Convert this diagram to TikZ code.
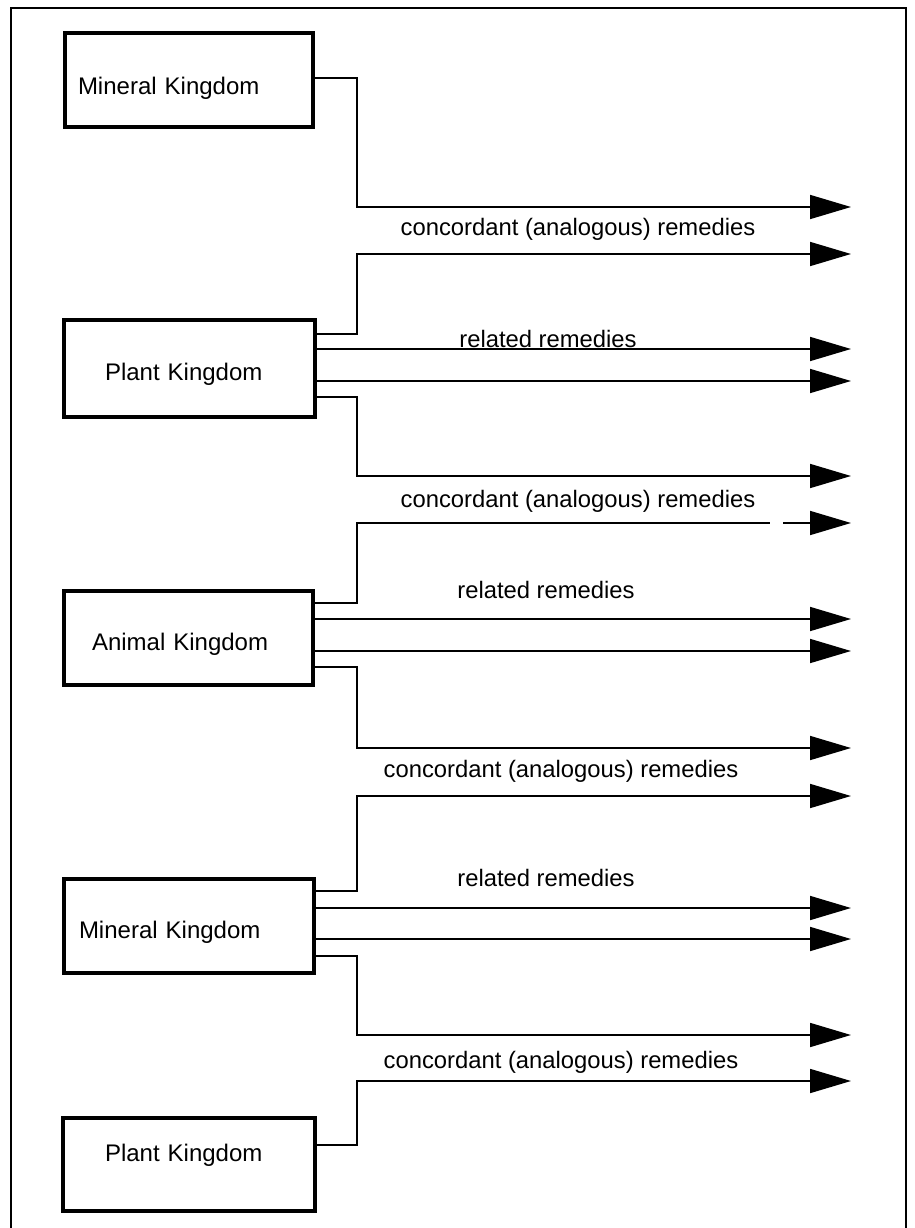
\documentclass[tikz,border=0pt]{standalone}
\usepackage{fontspec}
\setmainfont{Liberation Sans}
\usetikzlibrary{arrows.meta}
\begin{document}
\begin{tikzpicture}[x=1pt,y=-1pt,
  kbox/.style={draw, line width=3.2pt, rectangle, inner sep=0pt,
    font=\fontsize{24}{28}\selectfont, align=left},
  conn/.style={line width=1.7pt},
  arr/.style={conn, -{Triangle[length=41pt,width=24pt]}},
  lbl/.style={font=\fontsize{23.8}{28}\selectfont, anchor=base, inner sep=0pt}]
\useasboundingbox (0,0) rectangle (914,1228);
\draw[line width=1.5pt] (11,1228) -- (11,8) -- (906,8) -- (906,1228);

% boxes
\node[kbox, minimum width=248pt, minimum height=94pt, text width=222pt,
  text height=34pt, text depth=4pt] (m1) at (189,80) {Mineral Kingdom};
\node[kbox, minimum width=251pt, minimum height=97pt, text width=169pt,
  text height=27pt, text depth=4pt] (p1) at (189.5,368.5) {Plant Kingdom};
\node[kbox, minimum width=249pt, minimum height=94pt, text width=193pt,
  text height=28pt, text depth=4pt] (a1) at (188.5,638) {Animal Kingdom};
\node[kbox, minimum width=250pt, minimum height=94pt, text width=220pt,
  text height=28pt, text depth=4pt] (m2) at (189,926) {Mineral Kingdom};
\node[kbox, minimum width=252pt, minimum height=93pt, text width=168pt,
  text height=17pt, text depth=24pt] (p2) at (189,1164.5) {Plant Kingdom};

% bus x and arrow tips
\coordinate (bus) at (357,0);
\coordinate (t1) at (851,207);
\coordinate (t2) at (851,254);
\coordinate (t5) at (851,476);
\coordinate (t6) at (851,523);
\coordinate (t9) at (851,748);
\coordinate (t10) at (851,796);
\coordinate (t13) at (851,1035);
\coordinate (t14) at (851,1081);
\coordinate (tx) at (851,0);

% start points on the boxes
\coordinate (s1) at ([yshift=2pt]m1.east);
\coordinate (s2) at ([yshift=34.5pt]p1.east);
\coordinate (s3) at ([yshift=19.5pt]p1.east);
\coordinate (s4) at ([yshift=-12.5pt]p1.east);
\coordinate (s5) at ([yshift=-28.5pt]p1.east);
\coordinate (s6) at ([yshift=35pt]a1.east);
\coordinate (s7) at ([yshift=19pt]a1.east);
\coordinate (s8) at ([yshift=-13pt]a1.east);
\coordinate (s9) at ([yshift=-29pt]a1.east);
\coordinate (s10) at ([yshift=35pt]m2.east);
\coordinate (s11) at ([yshift=18pt]m2.east);
\coordinate (s12) at ([yshift=-13pt]m2.east);
\coordinate (s13) at ([yshift=-30pt]m2.east);
\coordinate (s14) at ([yshift=19.5pt]p2.east);

% connectors
\draw[arr] (s1) -- (s1 -| bus) |- (t1);
\draw[arr] (s2) -- (s2 -| bus) |- (t2);
\draw[arr] (s3) -- (s3 -| tx);
\draw[arr] (s4) -- (s4 -| tx);
\draw[arr] (s5) -- (s5 -| bus) |- (t5);
\draw[conn] (s6) -- (s6 -| bus) |- ([xshift=-81pt]t6);
\draw[arr] ([xshift=-68pt]t6) -- (t6);
\draw[arr] (s7) -- (s7 -| tx);
\draw[arr] (s8) -- (s8 -| tx);
\draw[arr] (s9) -- (s9 -| bus) |- (t9);
\draw[arr] (s10) -- (s10 -| bus) |- (t10);
\draw[arr] (s11) -- (s11 -| tx);
\draw[arr] (s12) -- (s12 -| tx);
\draw[arr] (s13) -- (s13 -| bus) |- (t13);
\draw[arr] (s14) -- (s14 -| bus) |- (t14);

% labels
\node[lbl] (c1) at (578,235) {concordant (analogous) remedies};
\node[lbl] (r1) at (548,347) {related remedies};
\node[lbl] (c2) at (578,507) {concordant (analogous) remedies};
\node[lbl] (r2) at (546,598) {related remedies};
\node[lbl] (c3) at (561,777) {concordant (analogous) remedies};
\node[lbl] (r3) at (546,886) {related remedies};
\node[lbl] (c4) at (561,1068) {concordant (analogous) remedies};
\end{tikzpicture}
\end{document}
